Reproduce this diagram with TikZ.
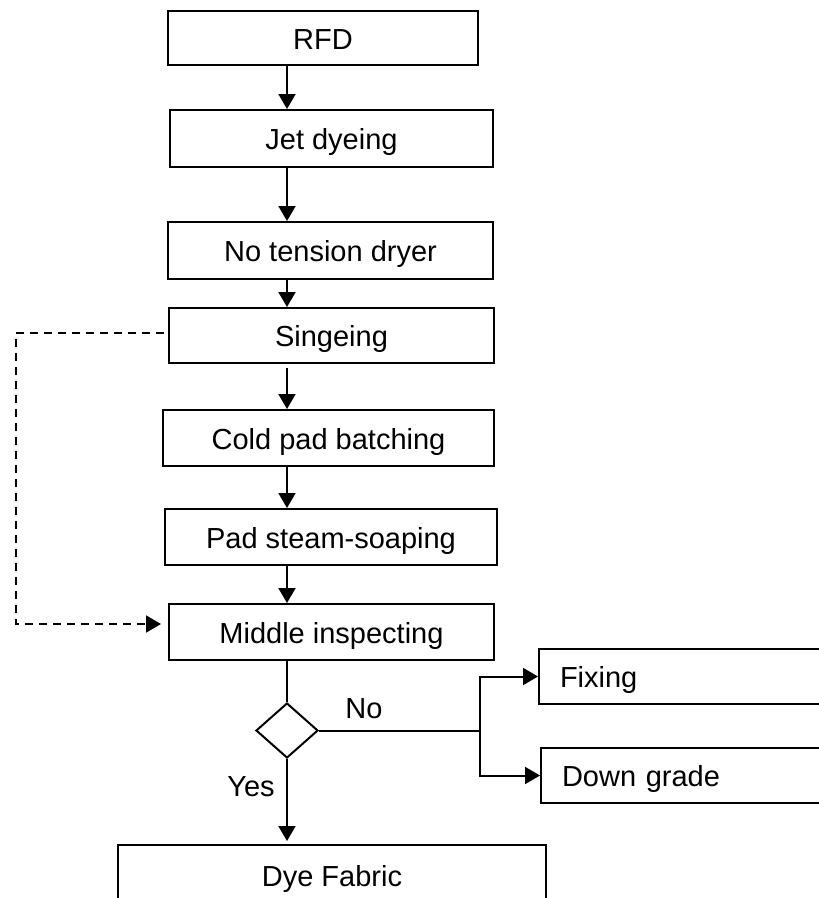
\documentclass[tikz,border=0pt]{standalone}
\usepackage{fontspec}
\setmainfont{Liberation Sans}
\usetikzlibrary{arrows.meta,shapes.geometric}
\begin{document}
\begin{tikzpicture}[x=1pt,y=-1pt,
  every node/.style={font=\fontsize{29}{34}\selectfont},
  stepbox/.style={draw,line width=2pt,inner sep=0pt,text height=28pt,text depth=6pt},
  tip/.style={-{Triangle[length=15pt,width=17pt]}},
  arr/.style={line width=2pt,tip},
  plain/.style={line width=2pt},
  dashline/.style={line width=1.8pt,dash pattern=on 8pt off 6pt}]
\useasboundingbox (0,0) rectangle (819,898);
\begin{scope}
\clip (0,0) rectangle (819,898);
% main process column
\node[stepbox,minimum width=310pt,minimum height=54pt] (rfd) at (323,38) {RFD};
\node[stepbox,minimum width=323pt,minimum height=57pt] (jet) at (331.5,138.5) {Jet dyeing};
\node[stepbox,minimum width=325pt,minimum height=57pt] (dry) at (330.5,250.5) {No tension dryer};
\node[stepbox,minimum width=325pt,minimum height=55pt] (sing) at (331.5,335.5) {Singeing};
\node[stepbox,minimum width=331pt,minimum height=56pt] (cold) at (328.5,438) {Cold pad batching};
\node[stepbox,minimum width=332pt,minimum height=56pt] (pad) at (331,537) {Pad steam-soaping};
\node[stepbox,minimum width=325pt,minimum height=56pt] (mid) at (331.5,632) {Middle inspecting};
% decision
\node[draw,line width=2pt,diamond,inner sep=0pt,minimum width=62pt,minimum height=55pt] (dia) at (287,730.5) {};
\node (no) at (364,709) {No};
\node (yes) at (251,787) {Yes};
% outcomes
\node[stepbox,anchor=west,text width=258pt,inner xsep=21pt,align=left,minimum height=55pt] (fix) at (538,676.5) {Fixing};
\node[stepbox,anchor=west,text width=256pt,inner xsep=21pt,align=left,minimum height=55pt] (down) at (540,775.5) {Down grade};
\node[stepbox,minimum width=428pt,minimum height=60pt] (dye) at (332,875) {Dye Fabric};
\coordinate (col) at (287,0);
\coordinate (br) at (480,730.5);
\coordinate (lft) at (16,0);
% connectors
\draw[arr] (rfd.south -| col) -- (jet.north -| col);
\draw[arr] (jet.south -| col) -- (dry.north -| col);
\draw[arr] (dry.south -| col) -- (sing.north -| col);
\draw[arr] ([yshift=-4pt]sing.south -| col) -- (cold.north -| col);
\draw[arr] (cold.south -| col) -- (pad.north -| col);
\draw[arr] (pad.south -| col) -- (mid.north -| col);
\draw[plain] (mid.south -| col) -- (dia.north);
\draw[arr] (dia.south) -- ([yshift=3pt]dye.north -| col);
\draw[plain] (dia.east) -- (br);
\draw[arr] (br) |- (fix.west);
\draw[arr] (br) |- (down.west);
\draw[dashline,tip,shorten >=7pt]
  ([xshift=-4pt,yshift=2.5pt]sing.west) -- ([yshift=2.5pt]sing.west -| lft) |- ([yshift=8pt]mid.west);
\end{scope}
\end{tikzpicture}
\end{document}
